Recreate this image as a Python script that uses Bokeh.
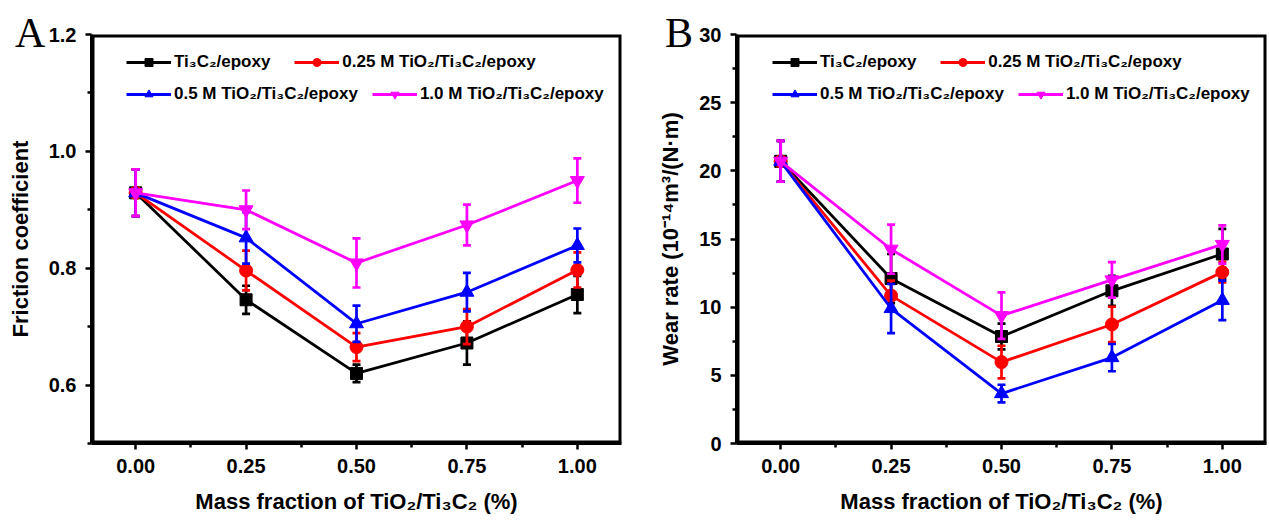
from bokeh.plotting import figure
from bokeh.models import (FixedTicker, NumeralTickFormatter, Legend, LegendItem,
                          Range1d, BoxAnnotation, Div)
from bokeh.layouts import row
from bokeh.embed import file_html
from bokeh.resources import INLINE

# ---------------- data ----------------
mass_fraction = [0.0, 0.25, 0.5, 0.75, 1.0]
series_names = ["Ti₃C₂/epoxy", "0.25 M TiO₂/Ti₃C₂/epoxy",
                "0.5 M TiO₂/Ti₃C₂/epoxy", "1.0 M TiO₂/Ti₃C₂/epoxy"]

# Friction coefficient (panel A)
fric_ti3c2 = [0.929, 0.746, 0.620, 0.672, 0.755]
fric_ti3c2_err = [0.040, 0.024, 0.015, 0.037, 0.032]
fric_025 = [0.929, 0.796, 0.665, 0.700, 0.797]
fric_025_err = [0.040, 0.034, 0.024, 0.030, 0.030]
fric_05 = [0.929, 0.852, 0.705, 0.759, 0.839]
fric_05_err = [0.040, 0.044, 0.031, 0.033, 0.029]
fric_10 = [0.929, 0.900, 0.809, 0.874, 0.950]
fric_10_err = [0.040, 0.033, 0.042, 0.035, 0.038]

# Wear rate (panel B)
wear_ti3c2 = [20.7, 12.1, 7.85, 11.2, 13.9]
wear_ti3c2_err = [1.5, 1.8, 0.95, 1.1, 1.85]
wear_025 = [20.7, 10.85, 5.97, 8.73, 12.57]
wear_025_err = [1.5, 1.1, 1.2, 1.3, 0.75]
wear_05 = [20.7, 9.9, 3.66, 6.3, 10.5]
wear_05_err = [1.5, 1.8, 0.65, 1.0, 1.45]
wear_10 = [20.7, 14.25, 9.38, 12.0, 14.6]
wear_10_err = [1.5, 1.8, 1.7, 1.3, 1.4]

x_ticks = [0.0, 0.25, 0.5, 0.75, 1.0]
x_minor = [-0.125, 0.125, 0.375, 0.625, 0.875, 1.125]
fric_ticks = [0.6, 0.8, 1.0, 1.2]
fric_minor = [0.5, 0.7, 0.9, 1.1]
wear_ticks = [0, 5, 10, 15, 20, 25, 30]
wear_minor = [2.5, 7.5, 12.5, 17.5, 22.5, 27.5]

colors = ["#000000", "#FF0000", "#0000FF", "#FF00FF"]
markers = ["square", "circle", "triangle", "inverted_triangle"]
msizes = [12, 13, 14, 14]

FONT = "Liberation Sans"
SERIF = "Liberation Serif"


def style_axes(p, yticks, yminor, yfmt, ylabel):
    p.xaxis.ticker = FixedTicker(ticks=x_ticks, minor_ticks=x_minor)
    p.yaxis.ticker = FixedTicker(ticks=yticks, minor_ticks=yminor)
    p.xaxis.formatter = NumeralTickFormatter(format="0.00")
    p.yaxis.formatter = NumeralTickFormatter(format=yfmt)
    p.xaxis.axis_label = "Mass fraction of TiO₂/Ti₃C₂ (%)"
    p.yaxis.axis_label = ylabel
    for ax in (p.xaxis, p.yaxis):
        ax.axis_line_width = 3
        ax.axis_line_color = "black"
        ax.major_tick_line_width = 2.5
        ax.minor_tick_line_width = 2.5
        ax.major_tick_out = 6
        ax.major_tick_in = 0
        ax.minor_tick_out = 4
        ax.minor_tick_in = 0
        ax.major_label_text_font = FONT
        ax.major_label_text_font_style = "bold"
        ax.major_label_text_font_size = "20px"
        ax.major_label_text_color = "black"
        ax.axis_label_text_font = FONT
        ax.axis_label_text_font_style = "bold"
        ax.axis_label_text_font_size = "22px"
        ax.axis_label_text_color = "black"
        ax.major_label_standoff = 9
        ax.axis_label_standoff = 13
    p.xgrid.visible = False
    p.ygrid.visible = False
    p.outline_line_color = None
    # plot frame (box around the data area)
    p.add_layout(BoxAnnotation(fill_alpha=0, line_color="black", line_width=6,
                               line_alpha=1.0))


def make_panel(ys, errs, yr, yticks, yminor, yfmt, ylabel, width,
               border_left, border_right, legend_x):
    p = figure(width=width, height=521, output_backend="svg", toolbar_location=None,
               x_range=Range1d(-0.1, 1.1), y_range=Range1d(*yr),
               min_border_left=border_left, min_border_right=border_right,
               min_border_top=34, min_border_bottom=78,
               border_fill_alpha=0)
    style_axes(p, yticks, yminor, yfmt, ylabel)
    items = []
    for y, e, c, m, s, name in zip(ys, errs, colors, markers, msizes, series_names):
        lo = [a - b for a, b in zip(y, e)]
        hi = [a + b for a, b in zip(y, e)]
        p.segment(x0=mass_fraction, y0=lo, x1=mass_fraction, y1=hi,
                  line_color=c, line_width=2.7)
        p.scatter(x=mass_fraction + mass_fraction, y=lo + hi, marker="dash",
                  size=8, line_color=c, line_width=2.7, angle=0)
        ln = p.line(x=mass_fraction, y=y, line_color=c, line_width=2.8)
        sc = p.scatter(x=mass_fraction, y=y, marker=m, size=s,
                       fill_color=c, line_color=c)
        items.append(LegendItem(label=name, renderers=[ln, sc]))
    for its, ly, sp in [(items[:2], 371, 24), (items[2:], 339, 14)]:
        lg = Legend(items=its, orientation="horizontal", location=(legend_x, ly),
                    glyph_width=45, glyph_height=20, label_height=20,
                    label_standoff=3, spacing=sp, padding=0, margin=0,
                    border_line_color=None, background_fill_alpha=0,
                    label_text_font=FONT, label_text_font_style="bold",
                    label_text_font_size="17px", label_text_color="black")
        p.add_layout(lg, "center")
    return p


pA = make_panel([fric_ti3c2, fric_025, fric_05, fric_10],
                [fric_ti3c2_err, fric_025_err, fric_05_err, fric_10_err],
                (0.5, 1.2), fric_ticks, fric_minor, "0.0", "Friction coefficient",
                640, 91, 19, 35)
pB = make_panel([wear_ti3c2, wear_025, wear_05, wear_10],
                [wear_ti3c2_err, wear_025_err, wear_05_err, wear_10_err],
                (0, 30), wear_ticks, wear_minor, "0", "Wear rate (10⁻¹⁴m³/(N·m)",
                629, 96, 3, 36)


def letter(txt, left):
    return Div(text=txt, styles={"position": "absolute", "left": f"{left}px",
                                 "top": "7px", "z-index": "10",
                                 "font-family": SERIF, "font-size": "42px",
                                 "line-height": "42px", "color": "black"})


layout = row(letter("A", 10), letter("B", 660), pA, pB)
open("out.html", "w").write(file_html(layout, INLINE))
